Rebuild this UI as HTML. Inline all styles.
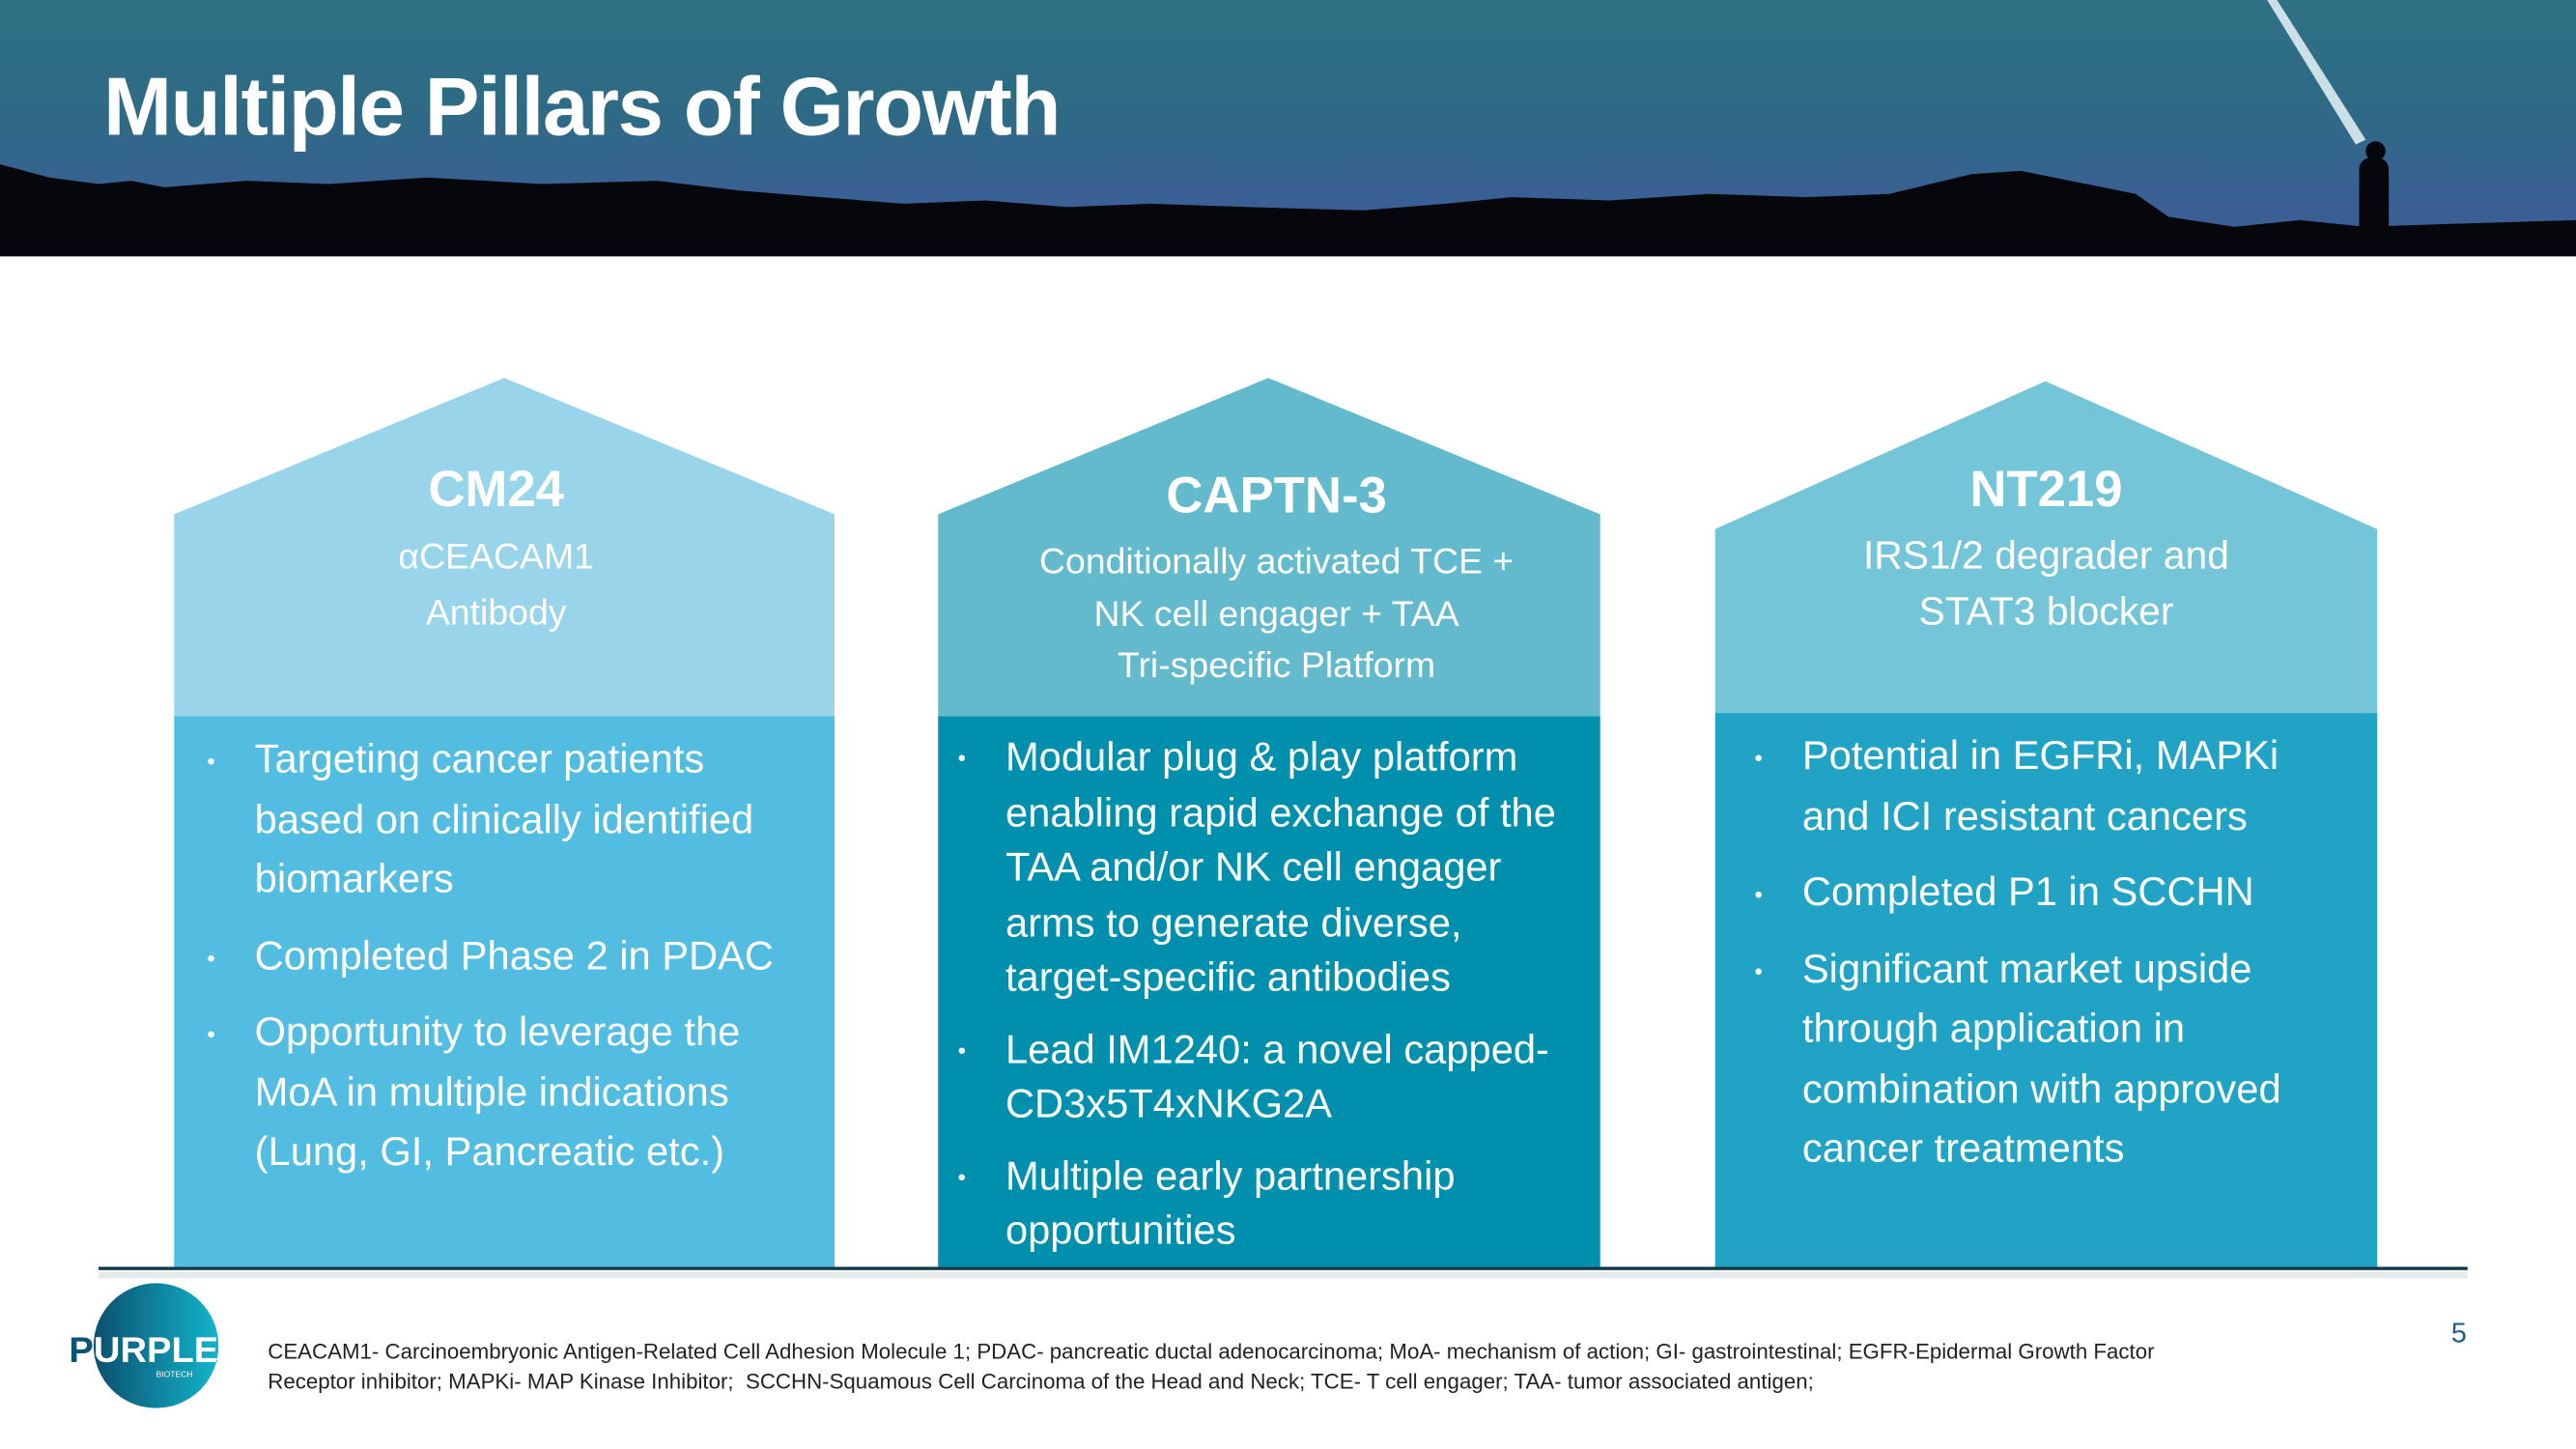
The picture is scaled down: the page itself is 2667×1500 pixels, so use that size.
<!DOCTYPE html>
<html><head><meta charset="utf-8"><style>
html,body{margin:0;padding:0;background:#fff;}
body{width:2667px;height:1500px;overflow:hidden;}
#w{position:absolute;left:0;top:0;width:1568px;height:882px;transform:scale(1.7009);transform-origin:0 0;font-family:"Liberation Sans",sans-serif;}
.abs{position:absolute;}
.hdr{left:0;top:0;width:1568px;height:156px;background:linear-gradient(180deg,#2f7185 0%,#2e6a85 45%,#3a5f95 80%,#3a5f95 100%);overflow:hidden;}
.title{left:63px;top:36px;color:#fff;font-weight:bold;font-size:50px;letter-spacing:-0.8px;}
.ph{color:#fff;text-align:center;}
.ph .t{font-weight:bold;font-size:31px;}
.ph .s{font-size:22px;line-height:33px;margin-top:6px;}
ul{margin:0;padding:0;list-style:none;color:#fff;font-size:24.5px;}
li{position:relative;padding-left:49px;}
li:before{content:"•";position:absolute;left:20px;font-size:14px;}
.foot{left:163px;top:814px;font-size:13.1px;line-height:18px;color:#222;}
</style></head><body>
<div id="w">
<div class="abs hdr">
<svg width="1568" height="156" style="position:absolute;left:0;top:0">
<polygon points="1380,0 1386,0 1440,85 1434,88" fill="#e8f4f8" opacity="0.85"/>
<path d="M0,100 L15,104 L30,108 L60,112 L80,110 L100,114 L150,110 L200,112 L260,108 L330,112 L400,110 L450,116 L500,120 L550,124 L600,122 L650,126 L700,124 L760,126 L830,128 L880,124 L920,120 L980,122 L1040,118 L1100,120 L1150,118 L1200,106 L1230,104 L1260,110 L1300,118 L1320,132 L1360,138 L1400,134 L1440,138 L1500,136 L1568,134 L1568,156 L0,156 Z" fill="#05070d"/>
<rect x="1436" y="96" width="18" height="52" rx="7" fill="#05070d"/>
<circle cx="1446" cy="92" r="6" fill="#05070d"/>
</svg>
<div class="abs title">Multiple Pillars of Growth</div>
</div>

<svg class="abs" style="left:0;top:0" width="1568" height="882">
<polygon points="106,313 307,230 508,313 508,437 106,437" fill="#98d5ea"/>
<rect x="106" y="436" width="402" height="335" fill="#52bde0"/>
<polygon points="571,313 772,230 974,313 974,437 571,437" fill="#63bacd"/>
<rect x="571" y="436" width="403" height="335" fill="#0090ad"/>
<polygon points="1044,322 1245,232 1447,322 1447,435 1044,435" fill="#75c5d9"/>
<rect x="1044" y="434" width="403" height="338" fill="#21a3c5"/>
<rect x="60" y="771" width="1442" height="2" fill="#0e3a4a"/>
<rect x="60" y="774" width="1442" height="4" fill="#e6eaec"/>
<defs><linearGradient id="lg" x1="0" y1="0" x2="1" y2="0"><stop offset="0" stop-color="#0b4f6e"/><stop offset="1" stop-color="#12b5cc"/></linearGradient>
<clipPath id="cc"><circle cx="95" cy="819" r="38"/></clipPath></defs>
<circle cx="95" cy="819" r="38" fill="url(#lg)"/>
<text x="42" y="829" font-family="Liberation Sans" font-weight="bold" font-size="22" fill="#0b5570" textLength="91" lengthAdjust="spacingAndGlyphs">PURPLE</text>
<text x="42" y="829" font-family="Liberation Sans" font-weight="bold" font-size="22" fill="#fff" textLength="91" lengthAdjust="spacingAndGlyphs" clip-path="url(#cc)">PURPLE</text>
<text x="95" y="838" font-family="Liberation Sans" font-size="5" fill="#fff">BIOTECH</text>
</svg>

<div class="abs ph" style="left:106px;top:280px;width:392px"><div class="t">CM24</div><div class="s" style="line-height:34px">αCEACAM1<br>Antibody</div></div>
<div class="abs ph" style="left:571px;top:284px;width:412px"><div class="t">CAPTN-3</div><div class="s" style="line-height:31.5px">Conditionally activated TCE +<br>NK cell engager + TAA<br>Tri-specific Platform</div></div>
<div class="abs ph" style="left:1044px;top:280px;width:403px"><div class="t">NT219</div><div class="s" style="font-size:24px;line-height:34px">IRS1/2 degrader and<br>STAT3 blocker</div></div>

<ul class="abs" style="left:106px;top:445px;width:372px;line-height:36.5px">
<li style="margin-bottom:10px">Targeting cancer patients based on clinically identified biomarkers</li>
<li style="margin-bottom:10px">Completed Phase 2 in PDAC</li>
<li>Opportunity to leverage the MoA in multiple indications (Lung, GI, Pancreatic etc.)</li>
</ul>
<ul class="abs" style="left:563px;top:445px;width:398px;line-height:33.5px">
<li style="margin-bottom:10px">Modular plug &amp; play platform enabling rapid exchange of the TAA and/or NK cell engager arms to generate diverse, target-specific antibodies</li>
<li style="margin-bottom:10px">Lead IM1240: a novel capped-CD3x5T4xNKG2A</li>
<li>Multiple early partnership opportunities</li>
</ul>
<ul class="abs" style="left:1048px;top:443px;width:368px;line-height:36.5px">
<li style="margin-bottom:10px">Potential in EGFRi, MAPKi and ICI resistant cancers</li>
<li style="margin-bottom:10px">Completed P1 in SCCHN</li>
<li>Significant market upside through application in combination with approved cancer treatments</li>
</ul>

<div class="abs foot">CEACAM1- Carcinoembryonic Antigen-Related Cell Adhesion Molecule 1; PDAC- pancreatic ductal adenocarcinoma; MoA- mechanism of action; GI- gastrointestinal; EGFR-Epidermal Growth Factor<br>Receptor inhibitor; MAPKi- MAP Kinase Inhibitor;&nbsp; SCCHN-Squamous Cell Carcinoma of the Head and Neck; TCE- T cell engager; TAA- tumor associated antigen;</div>
<div class="abs" style="left:1492px;top:802px;font-size:17px;color:#1f5f80">5</div>
</div>
</body></html>
